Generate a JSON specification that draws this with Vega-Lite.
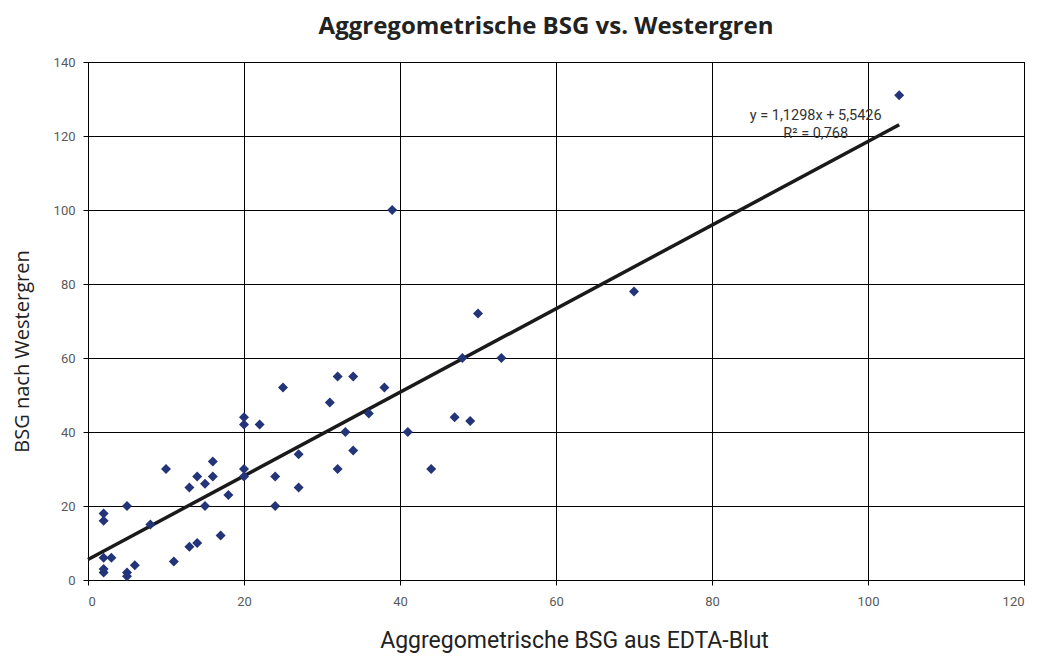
{
  "$schema": "https://vega.github.io/schema/vega-lite/v6.json",
  "width": 936,
  "height": 518,
  "autosize": {"type": "none"},
  "padding": {"left": 88, "top": 62, "right": 14, "bottom": 77},
  "background": "white",
  "title": {
    "text": "Aggregometrische BSG vs. Westergren",
    "font": "Open Sans",
    "fontSize": 24,
    "fontWeight": "bold",
    "color": "#222222",
    "anchor": "middle",
    "dx": -10,
    "offset": 17,
    "frame": "group"
  },
  "config": {
    "view": {"stroke": "#000000", "strokeWidth": 1},
    "axis": {
      "grid": true,
      "gridColor": "#000000",
      "gridWidth": 1,
      "gridOpacity": 1,
      "domainColor": "#000000",
      "tickColor": "#000000",
      "tickSize": 5,
      "labelFont": "Roboto",
      "labelFontSize": 13,
      "labelColor": "#5a5a5a",
      "titleFont": "Open Sans",
      "titleFontWeight": "normal",
      "titleColor": "#222222",
      "titleFontSize": 20
    }
  },
  "datasets": {
    "points": [
      {"aggregometrie": 2, "westergren": 18},
      {"aggregometrie": 2, "westergren": 16},
      {"aggregometrie": 2, "westergren": 6},
      {"aggregometrie": 2, "westergren": 3},
      {"aggregometrie": 2, "westergren": 2},
      {"aggregometrie": 3, "westergren": 6},
      {"aggregometrie": 5, "westergren": 20},
      {"aggregometrie": 5, "westergren": 2},
      {"aggregometrie": 5, "westergren": 1},
      {"aggregometrie": 6, "westergren": 4},
      {"aggregometrie": 8, "westergren": 15},
      {"aggregometrie": 10, "westergren": 30},
      {"aggregometrie": 11, "westergren": 5},
      {"aggregometrie": 13, "westergren": 25},
      {"aggregometrie": 13, "westergren": 9},
      {"aggregometrie": 14, "westergren": 28},
      {"aggregometrie": 14, "westergren": 10},
      {"aggregometrie": 15, "westergren": 26},
      {"aggregometrie": 15, "westergren": 20},
      {"aggregometrie": 16, "westergren": 32},
      {"aggregometrie": 16, "westergren": 28},
      {"aggregometrie": 17, "westergren": 12},
      {"aggregometrie": 18, "westergren": 23},
      {"aggregometrie": 20, "westergren": 44},
      {"aggregometrie": 20, "westergren": 42},
      {"aggregometrie": 20, "westergren": 30},
      {"aggregometrie": 20, "westergren": 28},
      {"aggregometrie": 22, "westergren": 42},
      {"aggregometrie": 24, "westergren": 28},
      {"aggregometrie": 24, "westergren": 20},
      {"aggregometrie": 25, "westergren": 52},
      {"aggregometrie": 27, "westergren": 34},
      {"aggregometrie": 27, "westergren": 25},
      {"aggregometrie": 31, "westergren": 48},
      {"aggregometrie": 32, "westergren": 55},
      {"aggregometrie": 32, "westergren": 30},
      {"aggregometrie": 33, "westergren": 40},
      {"aggregometrie": 34, "westergren": 55},
      {"aggregometrie": 34, "westergren": 35},
      {"aggregometrie": 36, "westergren": 45},
      {"aggregometrie": 38, "westergren": 52},
      {"aggregometrie": 39, "westergren": 100},
      {"aggregometrie": 41, "westergren": 40},
      {"aggregometrie": 44, "westergren": 30},
      {"aggregometrie": 47, "westergren": 44},
      {"aggregometrie": 48, "westergren": 60},
      {"aggregometrie": 49, "westergren": 43},
      {"aggregometrie": 50, "westergren": 72},
      {"aggregometrie": 53, "westergren": 60},
      {"aggregometrie": 70, "westergren": 78},
      {"aggregometrie": 104, "westergren": 131}
    ],
    "trend": [
      {"aggregometrie": 0, "westergren": 5.54},
      {"aggregometrie": 104, "westergren": 123.04}
    ],
    "labels": [
      {"aggregometrie": 93.3, "westergren": 125.4, "text": "y = 1,1298x + 5,5426"},
      {"aggregometrie": 93.3, "westergren": 120.6, "text": "R² = 0,768"}
    ]
  },
  "layer": [
    {
      "data": {"name": "trend"},
      "mark": {"type": "line", "color": "#1a1a1a", "strokeWidth": 3.5},
      "encoding": {
        "x": {
          "field": "aggregometrie",
          "type": "quantitative",
          "scale": {"domain": [0, 120], "nice": false},
          "axis": {
            "values": [0, 20, 40, 60, 80, 100, 120],
            "title": "Aggregometrische BSG aus EDTA-Blut",
            "titleFont": "Roboto",
            "titleFontSize": 23,
            "titleX": 486,
            "titleAlign": "center",
            "titlePadding": 21,
            "labelPadding": 10
          }
        },
        "y": {
          "field": "westergren",
          "type": "quantitative",
          "scale": {"domain": [0, 140], "nice": false},
          "axis": {
            "values": [0, 20, 40, 60, 80, 100, 120, 140],
            "title": "BSG nach Westergren",
            "titleX": -66,
            "titleY": 289,
            "titleAngle": 270,
            "titleAlign": "center",
            "titleBaseline": "middle",
            "labelPadding": 8
          }
        }
      }
    },
    {
      "data": {"name": "points"},
      "mark": {"type": "point", "shape": "diamond", "filled": true, "size": 100, "color": "#233478", "opacity": 1},
      "encoding": {
        "x": {"field": "aggregometrie", "type": "quantitative"},
        "y": {"field": "westergren", "type": "quantitative"}
      }
    },
    {
      "data": {"name": "labels"},
      "mark": {"type": "text", "font": "Roboto", "fontSize": 14.5, "color": "#333333", "align": "center", "baseline": "middle"},
      "encoding": {
        "x": {"field": "aggregometrie", "type": "quantitative"},
        "y": {"field": "westergren", "type": "quantitative"},
        "text": {"field": "text"}
      }
    }
  ]
}
